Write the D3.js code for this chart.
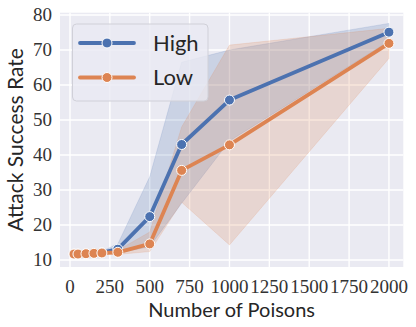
<!DOCTYPE html>
<html><head><meta charset="utf-8">
<script src="https://cdn.jsdelivr.net/npm/d3@7"></script>
<style>body{margin:0;background:#fff}svg{display:block}</style>
</head><body>
<svg id="c" width="416" height="327"></svg>
<script>
const xs = [25,50,100,150,200,300,500,700,1000,2000];
const highMean = [11.7,11.7,11.8,11.9,12.1,13.1,22.4,43.0,55.7,75.1];
const highLo   = [11.5,11.5,11.6,11.7,11.8,12.0,13.8,26.2,44.0,72.5];
const highHi   = [11.9,11.9,12.0,12.1,12.5,14.6,33.8,66.5,70.0,77.6];
const lowMean  = [11.7,11.7,11.8,11.9,12.0,12.2,14.6,35.6,42.9,71.9];
const lowLo    = [11.5,11.5,11.6,11.7,11.8,11.6,12.4,26.5,14.3,67.6];
const lowHi    = [11.9,11.9,12.0,12.1,12.2,12.8,18.0,48.0,71.4,76.2];
const xTicks = [0,250,500,750,1000,1250,1500,1750,2000];
const yTicks = [10,20,30,40,50,60,70,80];
const seriesNames = ["High","Low"];
const colors = ["#4c72b0","#dd8452"];

const svg = d3.select("#c");
const L=60, R=403.3, T=12.7, B=267;
const x = d3.scaleLinear().domain([-62.7,2090]).range([L,R]);
const y = d3.scaleLinear().domain([8,80.66]).range([B,T]);

svg.append("rect").attr("x",L).attr("y",T).attr("width",R-L).attr("height",B-T).attr("fill","#eaeaf2");
const g = svg.append("g");
g.selectAll(".gx").data(xTicks).join("line").attr("x1",d=>x(d)).attr("x2",d=>x(d)).attr("y1",T).attr("y2",B).attr("stroke","#fff").attr("stroke-width",1.4);
g.selectAll(".gy").data(yTicks).join("line").attr("y1",d=>y(d)).attr("y2",d=>y(d)).attr("x1",L).attr("x2",R).attr("stroke","#fff").attr("stroke-width",1.4);

const series = [
  {name:seriesNames[0], mean:highMean, lo:highLo, hi:highHi, c:colors[0]},
  {name:seriesNames[1], mean:lowMean, lo:lowLo, hi:lowHi, c:colors[1]}
];
const area = d3.area().x(d=>x(d.x)).y0(d=>y(d.lo)).y1(d=>y(d.hi));
const line = d3.line().x(d=>x(d.x)).y(d=>y(d.v));
const ptsOf = s => xs.map((xv,i)=>({x:xv,v:s.mean[i],lo:s.lo[i],hi:s.hi[i]}));
series.forEach(s=>{
  svg.append("path").datum(ptsOf(s)).attr("d",area).attr("fill",s.c).attr("fill-opacity",0.2).attr("stroke",s.c).attr("stroke-opacity",0.2).attr("stroke-width",0.8);
});
series.forEach(s=>{
  const pts = ptsOf(s);
  svg.append("path").datum(pts).attr("d",line).attr("fill","none").attr("stroke",s.c).attr("stroke-width",3.8).attr("stroke-linejoin","round");
  svg.append("g").selectAll("circle").data(pts).join("circle").attr("cx",d=>x(d.x)).attr("cy",d=>y(d.v)).attr("r",5).attr("fill",s.c).attr("stroke","#fff").attr("stroke-width",1);
});

// ticks
const serif = "'Liberation Serif', serif";
svg.append("g").selectAll("text").data(yTicks).join("text").attr("x",52).attr("y",d=>y(d)).attr("dy","0.33em").attr("text-anchor","end").attr("font-family",serif).attr("font-size",19).attr("fill","#333").text(d=>d);
svg.append("g").selectAll("text").data(xTicks).join("text").attr("x",d=>x(d)).attr("y",293).attr("text-anchor","middle").attr("font-family",serif).attr("font-size",19).attr("fill","#333").text(d=>d);

const sans = "Lato, 'DejaVu Sans', sans-serif";
svg.append("text").attr("x",(L+R)/2).attr("y",317).attr("text-anchor","middle").attr("font-family",sans).attr("font-size",20).attr("fill","#262626").text("Number of Poisons");
svg.append("text").attr("transform",`translate(23,${(T+B)/2}) rotate(-90)`).attr("text-anchor","middle").attr("font-family",sans).attr("font-size",21).attr("fill","#262626").text("Attack Success Rate");

// legend
const lg = svg.append("g");
lg.append("rect").attr("x",72.5).attr("y",24).attr("width",135.5).attr("height",77).attr("rx",4).attr("fill","#eaeaf2").attr("fill-opacity",0.8).attr("stroke","#d0d0d8").attr("stroke-width",1);
series.forEach((s,i)=>{
  const yy = 43 + i*34.5;
  lg.append("line").attr("x1",80).attr("x2",134).attr("y1",yy).attr("y2",yy).attr("stroke",s.c).attr("stroke-width",3.8).attr("stroke-linecap","round");
  lg.append("circle").attr("cx",107).attr("cy",yy).attr("r",5).attr("fill",s.c).attr("stroke","#fff").attr("stroke-width",1);
  lg.append("text").attr("x",153).attr("y",yy).attr("dy","0.36em").attr("font-family",sans).attr("font-size",22).attr("fill","#262626").text(s.name);
});
</script>
</body></html>
